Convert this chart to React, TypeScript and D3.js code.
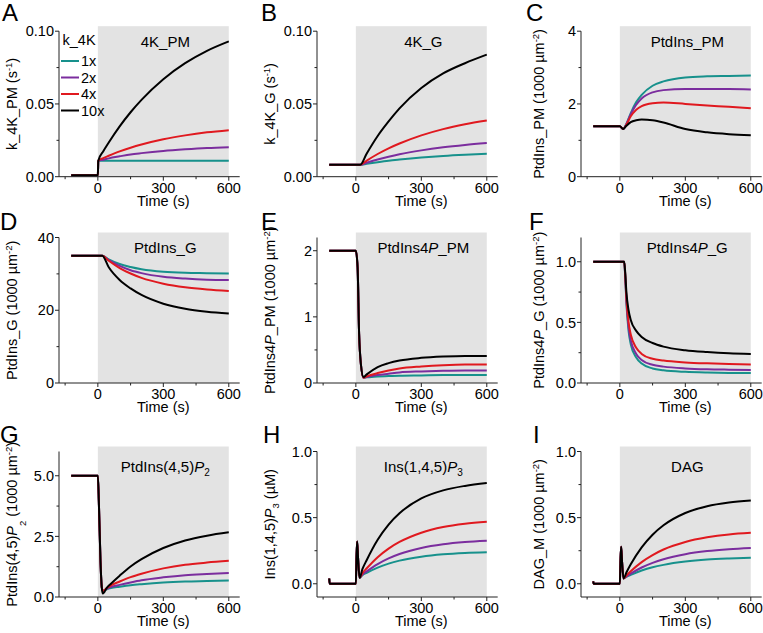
import React from 'react'
import * as d3 from 'd3'

const seriesNames = ['1x', '2x', '4x', '10x']
const colors = ['#17918c', '#7b2d9e', '#e0191f', '#000000']

// A: k_4K_PM (s-1)
const timeA = [-122, 0, 2, 25, 50, 100, 150, 200, 300, 400, 500, 600]
const valuesA = [
  [0.001, 0.001, 0.011, 0.011, 0.011, 0.011, 0.011, 0.011, 0.011, 0.011, 0.011, 0.011],
  [0.001, 0.001, 0.011, 0.0117, 0.0126, 0.014, 0.0153, 0.0162, 0.0177, 0.0188, 0.0197, 0.0203],
  [0.001, 0.001, 0.011, 0.0128, 0.0144, 0.0174, 0.0199, 0.0221, 0.0257, 0.0284, 0.0305, 0.032],
  [0.001, 0.001, 0.011, 0.0175, 0.0235, 0.0346, 0.0443, 0.0528, 0.067, 0.078, 0.0865, 0.093],
]

// B: k_4K_G (s-1)
const timeB = [-122, 20, 50, 100, 150, 200, 300, 400, 500, 600]
const valuesB = [
  [0.0082, 0.0082, 0.0089, 0.01, 0.011, 0.0118, 0.0132, 0.0143, 0.0151, 0.0157],
  [0.0082, 0.0082, 0.0096, 0.0118, 0.0137, 0.0154, 0.0181, 0.0202, 0.0218, 0.0231],
  [0.0082, 0.0082, 0.0111, 0.0156, 0.0195, 0.0228, 0.0284, 0.0327, 0.036, 0.0386],
  [0.0082, 0.0082, 0.016, 0.028, 0.038, 0.047, 0.061, 0.071, 0.078, 0.0839],
]

// C: PtdIns_PM
const timeC = [-122, 0, 15, 30, 50, 75, 100, 150, 200, 300, 400, 500, 600]
const valuesC = [
  [1.385, 1.385, 1.31, 1.45, 1.75, 2.05, 2.25, 2.5, 2.62, 2.73, 2.76, 2.77, 2.78],
  [1.385, 1.385, 1.31, 1.45, 1.72, 1.98, 2.15, 2.32, 2.38, 2.41, 2.41, 2.41, 2.4],
  [1.385, 1.385, 1.31, 1.43, 1.66, 1.84, 1.94, 2.02, 2.04, 2.0, 1.96, 1.92, 1.88],
  [1.385, 1.385, 1.31, 1.4, 1.5, 1.55, 1.57, 1.55, 1.49, 1.31, 1.22, 1.17, 1.14],
]

// D: PtdIns_G
const timeD = [-122, 20, 50, 100, 150, 200, 300, 400, 500, 600]
const valuesD = [
  [35, 35, 34.0, 32.7, 31.9, 31.3, 30.6, 30.3, 30.2, 30.1],
  [35, 35, 33.8, 32.2, 31.0, 30.2, 29.2, 28.7, 28.4, 28.3],
  [35, 35, 33.6, 31.6, 30.1, 28.9, 27.3, 26.3, 25.7, 25.3],
  [35, 35, 31.8, 28.3, 26.0, 24.2, 21.8, 20.4, 19.6, 19.1],
]

// E: PtdIns4P_PM
const timeE = [-122, 0, 8, 15, 23, 35, 50, 100, 150, 200, 300, 400, 500, 600]
const valuesE = [
  [2, 2, 1.75, 0.74, 0.29, 0.08, 0.085, 0.1, 0.105, 0.11, 0.115, 0.12, 0.12, 0.12],
  [2, 2, 1.75, 0.74, 0.29, 0.08, 0.09, 0.12, 0.14, 0.16, 0.175, 0.185, 0.19, 0.19],
  [2, 2, 1.75, 0.74, 0.29, 0.08, 0.1, 0.15, 0.19, 0.22, 0.25, 0.27, 0.28, 0.28],
  [2, 2, 1.75, 0.74, 0.29, 0.09, 0.13, 0.24, 0.3, 0.34, 0.38, 0.4, 0.41, 0.41],
]

// F: PtdIns4P_G
const timeF = [-122, 20, 25, 30, 40, 50, 75, 100, 150, 200, 300, 400, 500, 600]
const valuesF = [
  [1, 1, 0.86, 0.66, 0.43, 0.32, 0.21, 0.16, 0.12, 0.105, 0.092, 0.086, 0.083, 0.082],
  [1, 1, 0.87, 0.68, 0.46, 0.35, 0.24, 0.19, 0.15, 0.135, 0.12, 0.113, 0.11, 0.108],
  [1, 1, 0.88, 0.7, 0.5, 0.4, 0.29, 0.24, 0.2, 0.185, 0.17, 0.162, 0.157, 0.153],
  [1, 1, 0.9, 0.75, 0.6, 0.52, 0.43, 0.38, 0.33, 0.3, 0.27, 0.255, 0.245, 0.24],
]

// G: PtdIns(4,5)P2
const timeG = [-122, 0, 5, 12, 18, 23, 41, 60, 100, 150, 200, 300, 400, 500, 600]
const valuesG = [
  [5, 5, 3.8, 1.5, 0.4, 0.25, 0.32, 0.37, 0.425, 0.486, 0.53, 0.6, 0.64, 0.66, 0.68],
  [5, 5, 3.8, 1.5, 0.4, 0.25, 0.34, 0.41, 0.5, 0.6, 0.69, 0.81, 0.9, 0.95, 0.99],
  [5, 5, 3.8, 1.5, 0.4, 0.25, 0.37, 0.48, 0.64, 0.82, 0.96, 1.18, 1.33, 1.42, 1.49],
  [5, 5, 3.8, 1.5, 0.4, 0.14, 0.38, 0.55, 0.88, 1.26, 1.56, 2.02, 2.33, 2.53, 2.67],
]

// H: Ins(1,4,5)P3
const timeH = [-122, -120, 0, 3, 6, 10, 17, 30, 50, 100, 150, 200, 300, 400, 500, 600]
const valuesH = [
  [0.04, 0, 0, 0.2, 0.32, 0.2, 0.045, 0.065, 0.083, 0.122, 0.152, 0.175, 0.205, 0.223, 0.233, 0.238],
  [0.04, 0, 0, 0.2, 0.32, 0.2, 0.045, 0.07, 0.094, 0.149, 0.192, 0.225, 0.271, 0.299, 0.316, 0.326],
  [0.04, 0, 0, 0.2, 0.32, 0.2, 0.045, 0.08, 0.117, 0.201, 0.266, 0.316, 0.386, 0.429, 0.454, 0.469],
  [0.04, 0, 0, 0.2, 0.32, 0.2, 0.045, 0.11, 0.18, 0.333, 0.448, 0.533, 0.645, 0.706, 0.74, 0.762],
]

// I: DAG_M
const timeI = [-122, -120, 0, 3, 6, 10, 17, 30, 50, 100, 150, 200, 300, 400, 500, 600]
const valuesI = [
  [0.018, 0, 0, 0.18, 0.28, 0.17, 0.04, 0.052, 0.067, 0.1, 0.125, 0.143, 0.168, 0.183, 0.191, 0.196],
  [0.018, 0, 0, 0.18, 0.28, 0.17, 0.04, 0.055, 0.077, 0.123, 0.158, 0.186, 0.224, 0.247, 0.261, 0.27],
  [0.018, 0, 0, 0.18, 0.28, 0.17, 0.04, 0.063, 0.095, 0.164, 0.217, 0.259, 0.316, 0.351, 0.373, 0.385],
  [0.018, 0, 0, 0.18, 0.28, 0.17, 0.04, 0.085, 0.147, 0.275, 0.371, 0.442, 0.535, 0.586, 0.614, 0.63],
]

const xTicks = [0, 300, 600]
const xMinor = [-150, 150, 450]

const FONT = 'Liberation Sans, Arial, Helvetica, sans-serif'
const colLeft = [59, 317, 581]
const rowBottom = [176.7, 383, 597]
const titleY = [47, 252.5, 472]
const letterY = [21, 230, 443]
const labelX = [17, 275, 544]
const axisH = 145.5
const plotW = 180.7

const um = (
  <>
    {' (1000 \u00b5m'}
    <tspan fontSize="9.5" dy="-5">-2</tspan>
    <tspan dy="5">)</tspan>
  </>
)

const panels = [
  {
    id: 'A', lx: 2, row: 0, col: 0, time: timeA, values: valuesA, domain: [0, 0.1],
    ticks: [0, 0.05, 0.1], minor: [0.025, 0.075], fmt: d3.format('.2f'),
    title: <>4K_PM</>,
    label: <>k_4K_PM (s<tspan fontSize="9.5" dy="-5">-1</tspan><tspan dy="5">)</tspan></>,
  },
  {
    id: 'B', lx: 261, row: 0, col: 1, time: timeB, values: valuesB, domain: [0, 0.1],
    ticks: [0, 0.05, 0.1], minor: [0.025, 0.075], fmt: d3.format('.2f'),
    title: <>4K_G</>,
    label: <>k_4K_G (s<tspan fontSize="9.5" dy="-5">-1</tspan><tspan dy="5">)</tspan></>,
  },
  {
    id: 'C', lx: 526, row: 0, col: 2, time: timeC, values: valuesC, domain: [0, 4],
    ticks: [0, 2, 4], minor: [1, 3], fmt: d3.format('d'),
    title: <>PtdIns_PM</>,
    label: <>PtdIns_PM{um}</>,
  },
  {
    id: 'D', lx: 0, row: 1, col: 0, time: timeD, values: valuesD, domain: [0, 40],
    ticks: [0, 20, 40], minor: [10, 30], fmt: d3.format('d'),
    title: <>PtdIns_G</>,
    label: <>PtdIns_G{um}</>,
  },
  {
    id: 'E', lx: 261, row: 1, col: 1, time: timeE, values: valuesE, domain: [0, 2.2],
    ticks: [0, 1, 2], minor: [0.5, 1.5], fmt: d3.format('d'),
    title: <>PtdIns4<tspan fontStyle="italic">P</tspan>_PM</>,
    label: <>PtdIns4<tspan fontStyle="italic">P</tspan>_PM{um}</>,
  },
  {
    id: 'F', lx: 529, row: 1, col: 2, time: timeF, values: valuesF, domain: [0, 1.2],
    ticks: [0, 0.5, 1], minor: [0.25, 0.75], fmt: d3.format('.1f'),
    title: <>PtdIns4<tspan fontStyle="italic">P</tspan>_G</>,
    label: <>PtdIns4<tspan fontStyle="italic">P</tspan>_G{um}</>,
  },
  {
    id: 'G', lx: 0, row: 2, col: 0, time: timeG, values: valuesG, domain: [0, 6],
    ticks: [0, 2.5, 5], minor: [1.25, 3.75], fmt: d3.format('.1f'),
    title: <>PtdIns(4,5)<tspan fontStyle="italic">P</tspan><tspan fontSize="10" dy="4">2</tspan></>,
    label: <>PtdIns(4,5)<tspan fontStyle="italic">P</tspan><tspan fontSize="9.5" dy="9">2</tspan><tspan dy="-9">{'  (1000 \u00b5m'}</tspan><tspan fontSize="9.5" dy="-5">-2</tspan><tspan dy="5">)</tspan></>,
  },
  {
    id: 'H', lx: 263, row: 2, col: 1, time: timeH, values: valuesH, domain: [-0.1, 1],
    ticks: [0, 0.5, 1], minor: [0.25, 0.75], fmt: d3.format('.1f'),
    title: <>Ins(1,4,5)<tspan fontStyle="italic">P</tspan><tspan fontSize="10" dy="4">3</tspan></>,
    label: <>Ins(1,4,5)<tspan fontStyle="italic">P</tspan><tspan fontSize="9.5" dy="4">3</tspan><tspan dy="-4">{' (\u00b5M)'}</tspan></>,
  },
  {
    id: 'I', lx: 533, row: 2, col: 2, time: timeI, values: valuesI, domain: [-0.1, 1],
    ticks: [0, 0.5, 1], minor: [0.25, 0.75], fmt: d3.format('.1f'),
    title: <>DAG</>,
    label: <>DAG_M{um}</>,
  },
]

const Panel = ({p}) => {
  const left = colLeft[p.col]
  const bottom = rowBottom[p.row]
  const top = bottom - axisH
  const x = d3.scaleLinear().domain([-178, 650]).range([left, left + plotW])
  const y = d3.scaleLinear().domain(p.domain).range([bottom, top])
  const line = d3.line().x(d => x(d[0])).y(d => y(d[1])).curve(d3.curveMonotoneX)
  const grayTop = top - 5
  const midX = (x(0) + x(600)) / 2

  return (
    <g fontFamily={FONT}>
      <rect x={x(0)} y={grayTop} width={x(600) - x(0)} height={bottom - grayTop} fill="#e3e3e3"/>
      {p.values.map((vals, i) => (
        <path key={i} d={line(p.time.map((t, j) => [t, vals[j]]))} fill="none"
          stroke={colors[i]} strokeWidth={2}/>
      ))}
      <line x1={left} x2={left} y1={top} y2={bottom} stroke="#222"/>
      <line x1={left} x2={left + plotW} y1={bottom} y2={bottom} stroke="#222"/>
      {p.ticks.map(t => (
        <g key={t}>
          <line x1={left - 4} x2={left} y1={y(t)} y2={y(t)} stroke="#222"/>
          <text x={left - 5} y={y(t)} dy="0.36em" textAnchor="end" fontSize="14.5">{p.fmt(t)}</text>
        </g>
      ))}
      {p.minor.map(t => (
        <line key={t} x1={left - 2.5} x2={left} y1={y(t)} y2={y(t)} stroke="#222"/>
      ))}
      {xTicks.map(t => (
        <g key={t}>
          <line x1={x(t)} x2={x(t)} y1={bottom} y2={bottom + 4} stroke="#222"/>
          <text x={x(t)} y={bottom + 16} textAnchor="middle" fontSize="14.5">{t}</text>
        </g>
      ))}
      {xMinor.map(t => (
        <line key={t} x1={x(t)} x2={x(t)} y1={bottom} y2={bottom + 2.5} stroke="#222"/>
      ))}
      <text x={midX} y={bottom + 29} textAnchor="middle" fontSize="14.5">Time (s)</text>
      <text x={midX + 2} y={titleY[p.row]} textAnchor="middle" fontSize="15">{p.title}</text>
      <text transform={`translate(${labelX[p.col]},${(top + bottom) / 2}) rotate(-90)`}
        textAnchor="middle" fontSize="14.5">{p.label}</text>
      <text x={p.lx} y={letterY[p.row]} fontSize="24">{p.id}</text>
    </g>
  )
}

const Legend = () => {
  const left = colLeft[0] + 2
  const rows = [61, 77.5, 94, 110.5]
  return (
    <g fontFamily={FONT} fontSize="14.5">
      <text x={left + 1.5} y={45}>k_4K</text>
      {seriesNames.map((s, i) => (
        <g key={s}>
          <line x1={left} x2={left + 18} y1={rows[i]} y2={rows[i]} stroke={colors[i]} strokeWidth={2}/>
          <text x={left + 20} y={rows[i]} dy="0.36em">{s}</text>
        </g>
      ))}
    </g>
  )
}

export default function App() {
  return (
    <svg width={763} height={633} style={{position: 'absolute', left: 0, top: 0, background: '#fff'}}>
      {panels.map(p => <Panel key={p.id} p={p}/>)}
      <Legend/>
    </svg>
  )
}
